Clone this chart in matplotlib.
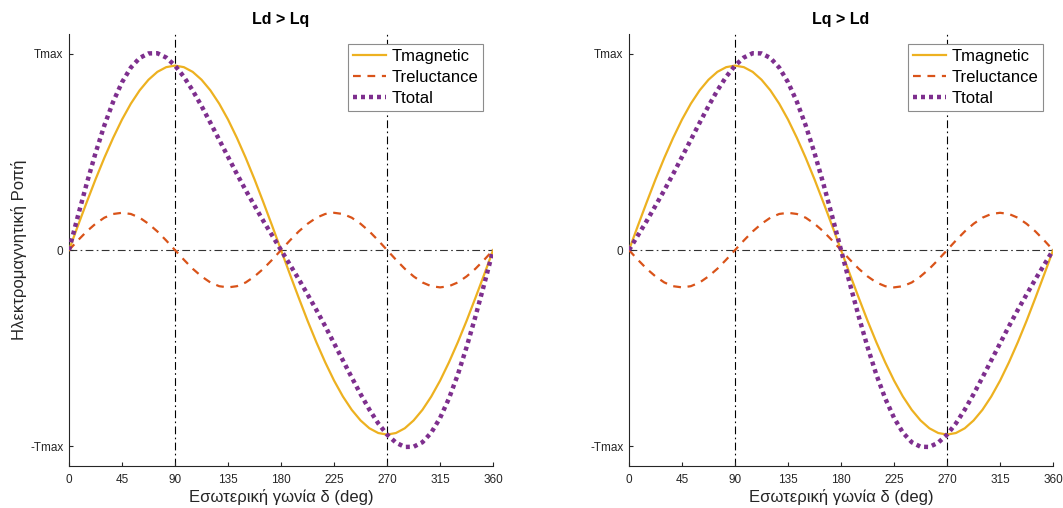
import matplotlib
matplotlib.use("Agg")
import matplotlib.pyplot as plt

plt.rcParams['font.family'] = ['Liberation Sans', 'DejaVu Sans']

# internal angle delta (deg)
delta = [0, 7.5, 15, 22.5, 30, 37.5, 45, 52.5, 60, 67.5, 75, 82.5, 90,
         97.5, 105, 112.5, 120, 127.5, 135, 142.5, 150, 157.5, 165, 172.5, 180,
         187.5, 195, 202.5, 210, 217.5, 225, 232.5, 240, 247.5, 255, 262.5, 270,
         277.5, 285, 292.5, 300, 307.5, 315, 322.5, 330, 337.5, 345, 352.5, 360]

# torques, normalised to Tmax
t_mag = [0, 0.123, 0.243, 0.360, 0.470, 0.572, 0.665, 0.746, 0.814, 0.868, 0.908, 0.932, 0.940,
         0.932, 0.908, 0.868, 0.814, 0.746, 0.665, 0.572, 0.470, 0.360, 0.243, 0.123, 0,
         -0.123, -0.243, -0.360, -0.470, -0.572, -0.665, -0.746, -0.814, -0.868, -0.908, -0.932, -0.940,
         -0.932, -0.908, -0.868, -0.814, -0.746, -0.665, -0.572, -0.470, -0.360, -0.243, -0.123, 0]

t_rel_ld = [0, 0.049, 0.095, 0.134, 0.165, 0.184, 0.190, 0.184, 0.165, 0.134, 0.095, 0.049, 0,
            -0.049, -0.095, -0.134, -0.165, -0.184, -0.190, -0.184, -0.165, -0.134, -0.095, -0.049, 0,
            0.049, 0.095, 0.134, 0.165, 0.184, 0.190, 0.184, 0.165, 0.134, 0.095, 0.049, 0,
            -0.049, -0.095, -0.134, -0.165, -0.184, -0.190, -0.184, -0.165, -0.134, -0.095, -0.049, 0]

t_tot_ld = [0, 0.172, 0.338, 0.494, 0.635, 0.756, 0.855, 0.930, 0.979, 1.002, 1.003, 0.981, 0.940,
            0.883, 0.813, 0.734, 0.649, 0.562, 0.475, 0.388, 0.305, 0.226, 0.148, 0.074, 0,
            -0.074, -0.148, -0.226, -0.305, -0.388, -0.475, -0.562, -0.649, -0.734, -0.813, -0.883, -0.940,
            -0.981, -1.003, -1.002, -0.979, -0.930, -0.855, -0.756, -0.635, -0.494, -0.338, -0.172, 0]

t_rel_lq = [0, -0.049, -0.095, -0.134, -0.165, -0.184, -0.190, -0.184, -0.165, -0.134, -0.095, -0.049, 0,
            0.049, 0.095, 0.134, 0.165, 0.184, 0.190, 0.184, 0.165, 0.134, 0.095, 0.049, 0,
            -0.049, -0.095, -0.134, -0.165, -0.184, -0.190, -0.184, -0.165, -0.134, -0.095, -0.049, 0,
            0.049, 0.095, 0.134, 0.165, 0.184, 0.190, 0.184, 0.165, 0.134, 0.095, 0.049, 0]

t_tot_lq = [0, 0.074, 0.148, 0.226, 0.305, 0.388, 0.475, 0.562, 0.649, 0.734, 0.813, 0.883, 0.940,
            0.981, 1.003, 1.002, 0.979, 0.930, 0.855, 0.756, 0.635, 0.494, 0.338, 0.172, 0,
            -0.172, -0.338, -0.494, -0.635, -0.756, -0.855, -0.930, -0.979, -1.002, -1.003, -0.981, -0.940,
            -0.883, -0.813, -0.734, -0.649, -0.562, -0.475, -0.388, -0.305, -0.226, -0.148, -0.074, 0]

x_ticks = [0, 45, 90, 135, 180, 225, 270, 315, 360]
y_ticks = [-1.0, 0, 1.0]
y_ticklabels = ['-Tmax', '0', 'Tmax']
titles = ['Ld > Lq', 'Lq > Ld']
series = [(t_mag, t_rel_ld, t_tot_ld), (t_mag, t_rel_lq, t_tot_lq)]

c_mag = '#EDB120'
c_rel = '#D95319'
c_tot = '#7E2F8E'
axcol = '#262626'
dashdot = (0, (7, 3, 1.5, 3))

fig = plt.figure(figsize=(10.63, 5.08), dpi=100)
lefts = [0.0649, 0.5917]

for i in range(2):
    ax = fig.add_axes([lefts[i], 0.0827, 0.399, 0.850])
    mag, rel, tot = series[i]

    ax.axvline(90, color='black', lw=0.8, ls=dashdot, zorder=1)
    ax.axvline(270, color='black', lw=0.8, ls=dashdot, zorder=1)
    ax.axhline(0, color='#333333', lw=0.8, ls=dashdot, zorder=1)

    ax.plot(delta, mag, color=c_mag, lw=1.6, label='Tmagnetic', zorder=3)
    ax.plot(delta, rel, color=c_rel, lw=1.6, ls=(0, (3.5, 3)), label='Treluctance', zorder=3)
    ax.plot(delta, tot, color=c_tot, lw=3.2, ls=(0, (0.9, 0.9)), label='Ttotal', zorder=4)

    ax.set_xlim(0, 360)
    ax.set_ylim(-1.1, 1.1)
    ax.set_xticks(x_ticks)
    ax.set_yticks(y_ticks)
    ax.set_yticklabels(y_ticklabels)
    ax.tick_params(direction='in', length=3, width=0.8, colors=axcol, labelsize=8.5)
    ax.tick_params(axis='x', pad=6)
    ax.tick_params(axis='y', pad=4)
    for s in ['top', 'right']:
        ax.spines[s].set_visible(False)
    for s in ['left', 'bottom']:
        ax.spines[s].set_color(axcol)
        ax.spines[s].set_linewidth(0.8)

    ax.set_title(titles[i], fontsize=11.5, fontweight='bold', color='black', pad=7)
    ax.set_xlabel('Εσωτερική γωνία δ (deg)', fontsize=12, color=axcol, labelpad=2)
    if i == 0:
        ax.set_ylabel('Ηλεκτρομαγνητική Ροπή', fontsize=12, color=axcol, labelpad=2.5)

    leg = ax.legend(loc='upper right', fontsize=12, fancybox=False, framealpha=1,
                    edgecolor='#8c8c8c', handlelength=2.0, handletextpad=0.3,
                    borderpad=0.3, labelspacing=0.35, borderaxespad=0.6)
    leg.get_frame().set_linewidth(0.8)

fig.savefig('out.png', dpi=100)
